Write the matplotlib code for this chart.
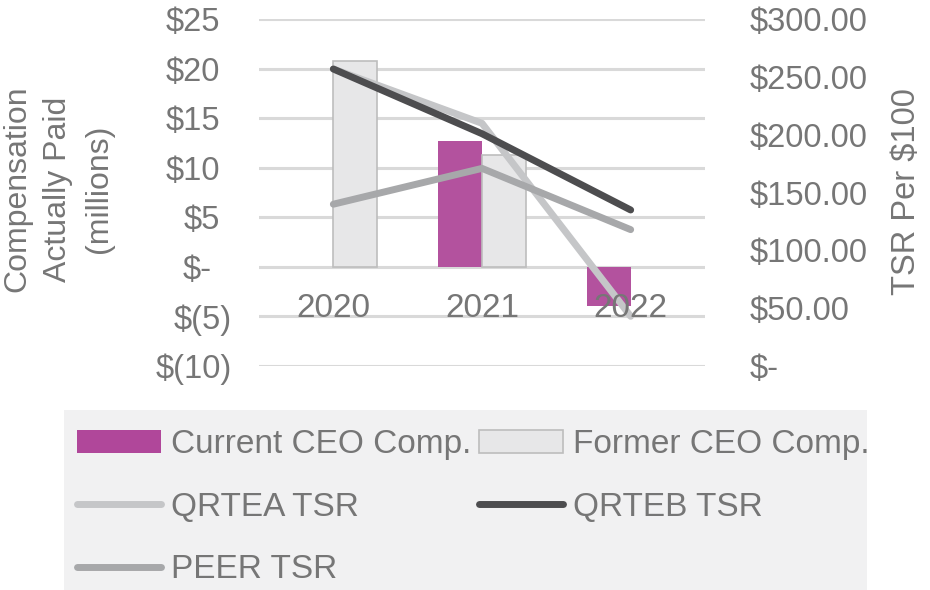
import numpy as np
import matplotlib
matplotlib.use("Agg")
import matplotlib.pyplot as plt
from matplotlib.patches import Rectangle
from matplotlib.lines import Line2D
from matplotlib.transforms import ScaledTranslation

plt.rcParams['font.family'] = ['Liberation Sans', 'DejaVu Sans']

# data
years = ['2020', '2021', '2022']
current_ceo = [np.nan, 12.75, -3.9]    # $ millions
former_ceo = [20.8, 11.3, np.nan]      # $ millions
qrtea_tsr = [257, 210, 43]
qrteb_tsr = [257, 201, 135]
peer_tsr = [140, 171, 118]

left_ticks = [-10, -5, 0, 5, 10, 15, 20, 25]
left_labels = ['$(10)', '$(5)', '$-', '$5', '$10', '$15', '$20', '$25']
right_ticks = [0, 50, 100, 150, 200, 250, 300]
right_labels = ['$-', '$50.00', '$100.00', '$150.00', '$200.00', '$250.00', '$300.00']

TXT = '#767676'
C_CUR = '#B3529E'
C_FORM = '#E7E7E8'
C_QA = '#C5C6C8'
C_QB = '#4D4D4F'
C_PEER = '#A7A8AA'
FS = 24

fig = plt.figure(figsize=(9.3, 5.9), dpi=100)
ax = fig.add_axes([259/930, 1-366/590, 446/930, 346.7/590])
ax2 = ax.twinx()

x = np.arange(len(years))
w = 0.295
ax.bar(x, current_ceo, width=-w, align='edge', color=C_CUR, zorder=3)
ax.bar(x, former_ceo, width=w, align='edge', color=C_FORM,
       edgecolor='#BDBDBD', linewidth=1.2, zorder=3)

ax.set_xlim(-0.5, 2.5)
ax.set_ylim(-10, 25)
ax.set_yticks(left_ticks)
ax.set_yticklabels(left_labels)
ax.set_xticks([])
ax.grid(axis='y', color='#D9D9D9', linewidth=2.2, zorder=0)
ax.set_axisbelow(True)
ax.tick_params(axis='y', length=0, pad=27*0.72, labelsize=FS - 0.5, labelcolor=TXT)
# accounting-style alignment: positives leave room for the ')'
for lab, t in zip(ax.get_yticklabels(), left_labels):
    if t == '$-':
        dx = -20
    elif '(' in t:
        dx = 0
    else:
        dx = -12
    lab.set_transform(lab.get_transform() + ScaledTranslation(dx/100, 0, fig.dpi_scale_trans))

ax2.plot(x, qrtea_tsr, color=C_QA, lw=5, solid_capstyle='round', zorder=2)
ax2.plot(x, peer_tsr, color=C_PEER, lw=5, solid_capstyle='round', zorder=3)
ax2.plot(x, qrteb_tsr, color=C_QB, lw=5, solid_capstyle='round', zorder=4)
ax2.set_ylim(0, 300)
ax2.set_yticks(right_ticks)
ax2.set_yticklabels(right_labels)
ax2.tick_params(axis='y', length=0, pad=45*0.72, labelsize=FS - 0.5, labelcolor=TXT)

for a in (ax, ax2):
    for s in a.spines.values():
        s.set_visible(False)

# category labels sit under the zero line
for i, yr in enumerate(years):
    ax2.text(i, -5.05, yr, transform=ax.transData, ha='center', va='baseline',
             fontsize=FS, color=TXT, zorder=10)

fig.text(58/930, 1-189/590, 'Compensation\nActually Paid\n(millions)', rotation=90,
         ha='center', va='center', fontsize=FS - 1, color=TXT, linespacing=1.47)
fig.text(906/930, 1-192/590, 'TSR Per $100', rotation=90, ha='center', va='center',
         fontsize=FS - 0.5, color=TXT)

# legend panel
fig.patches.append(Rectangle((64/930, 0), (867-64)/930, 1-410/590, transform=fig.transFigure,
                             facecolor='#F1F1F2', edgecolor='none', zorder=0))
handles = [
    Rectangle((0, 0), 1, 1, facecolor='#B0479A', edgecolor='none'),
    Line2D([], [], color=C_QA, lw=5, solid_capstyle='round'),
    Line2D([], [], color=C_PEER, lw=5, solid_capstyle='round'),
    Rectangle((0, 0), 1, 1, facecolor=C_FORM, edgecolor='#BDBDBD', linewidth=1.2),
    Line2D([], [], color=C_QB, lw=5, solid_capstyle='round'),
]
labels = ['Current CEO Comp.', 'QRTEA TSR', 'PEER TSR', 'Former CEO Comp.', 'QRTEB TSR']
leg = fig.legend(handles, labels, ncol=2, frameon=False, loc='upper left',
                 bbox_to_anchor=(77/930, 1-429/590), fontsize=FS, handlelength=2.52,
                 handletextpad=0.3, columnspacing=0.24, labelspacing=0.95,
                 borderpad=0, borderaxespad=0)
for t in leg.get_texts():
    t.set_color(TXT)

fig.savefig('out.png', dpi=100)
